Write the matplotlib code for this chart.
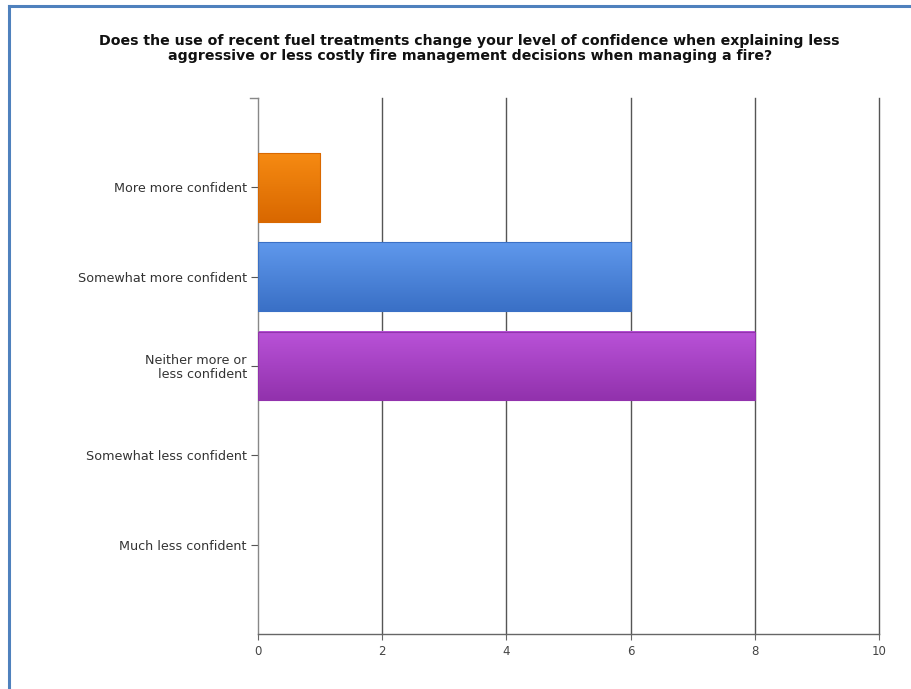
import numpy as np
import matplotlib.pyplot as plt
from matplotlib.colors import LinearSegmentedColormap

plt.rcParams['font.family'] = ['DejaVu Sans']

# data
categories = ["More more confident", "Somewhat more confident",
              "Neither more or\nless confident", "Somewhat less confident",
              "Much less confident"]
counts = [1, 6, 8, 0, 0]
x_ticks = [0, 2, 4, 6, 8, 10]
title = ("Does the use of recent fuel treatments change your level of confidence when explaining less\n"
         "aggressive or less costly fire management decisions when managing a fire?")

# gradient colours (top, bottom) per bar
bar_colors = [("#f68a12", "#d96800"), ("#5f98ec", "#3a70c6"),
              ("#b952d8", "#9232ad"), ("#888888", "#888888"), ("#888888", "#888888")]

fig = plt.figure(figsize=(9.12, 6.89), dpi=100)
ax = fig.add_axes([0.2829, 0.0798, 0.6809, 0.778])

bar_h = 0.77
ypos = np.arange(len(categories))
for i, (v, (c_top, c_bot)) in enumerate(zip(counts, bar_colors)):
    if v <= 0:
        continue
    cmap = LinearSegmentedColormap.from_list("g%d" % i, [c_top, c_bot])
    grad = np.linspace(0, 1, 64).reshape(-1, 1)
    ax.imshow(grad, cmap=cmap, aspect="auto", interpolation="bicubic",
              extent=(0, v, i + bar_h / 2, i - bar_h / 2), zorder=2)
    ax.barh(i, v, height=bar_h, color="none", edgecolor=c_bot, linewidth=0.8, zorder=3)

ax.set_xlim(0, 10)
ax.set_ylim(len(categories), -1)
ax.set_xticks(x_ticks)
ax.set_xticklabels([str(t) for t in x_ticks], fontsize=8.5, color="#444444")
ax.set_yticks(ypos)
ax.set_yticklabels(categories, fontsize=9.2, color="#333333", linespacing=1.1)

for t in x_ticks[1:]:
    ax.axvline(t, color="#555555", linewidth=1.0, zorder=1, clip_on=False)

for s in ["top", "right"]:
    ax.spines[s].set_visible(False)
ax.spines["left"].set_color("#888888")
ax.spines["bottom"].set_color("#666666")
ax.spines["left"].set_linewidth(1.0)
ax.spines["bottom"].set_linewidth(1.0)
ax.tick_params(axis="y", length=5, color="#555555", pad=3)
ax.tick_params(axis="x", length=4, color="#666666", pad=4)

# small tick at top of the value axis
ax.plot([-0.13, 0], [-1, -1], color="#888888", linewidth=1.0, clip_on=False, zorder=4)

fig.text(0.515, 0.930, title, ha="center", va="center", fontsize=10.2,
         fontweight="bold", color="#111111", linespacing=1.12)

# blue frame at left and top edges
fig.add_artist(plt.Line2D([0.0095, 0.0095], [0, 0.992], color="#4f81bd",
                          linewidth=2.2, transform=fig.transFigure))
fig.add_artist(plt.Line2D([0.0095, 1], [0.992, 0.992], color="#4f81bd",
                          linewidth=2.2, transform=fig.transFigure))

fig.savefig("out.png", dpi=100)
